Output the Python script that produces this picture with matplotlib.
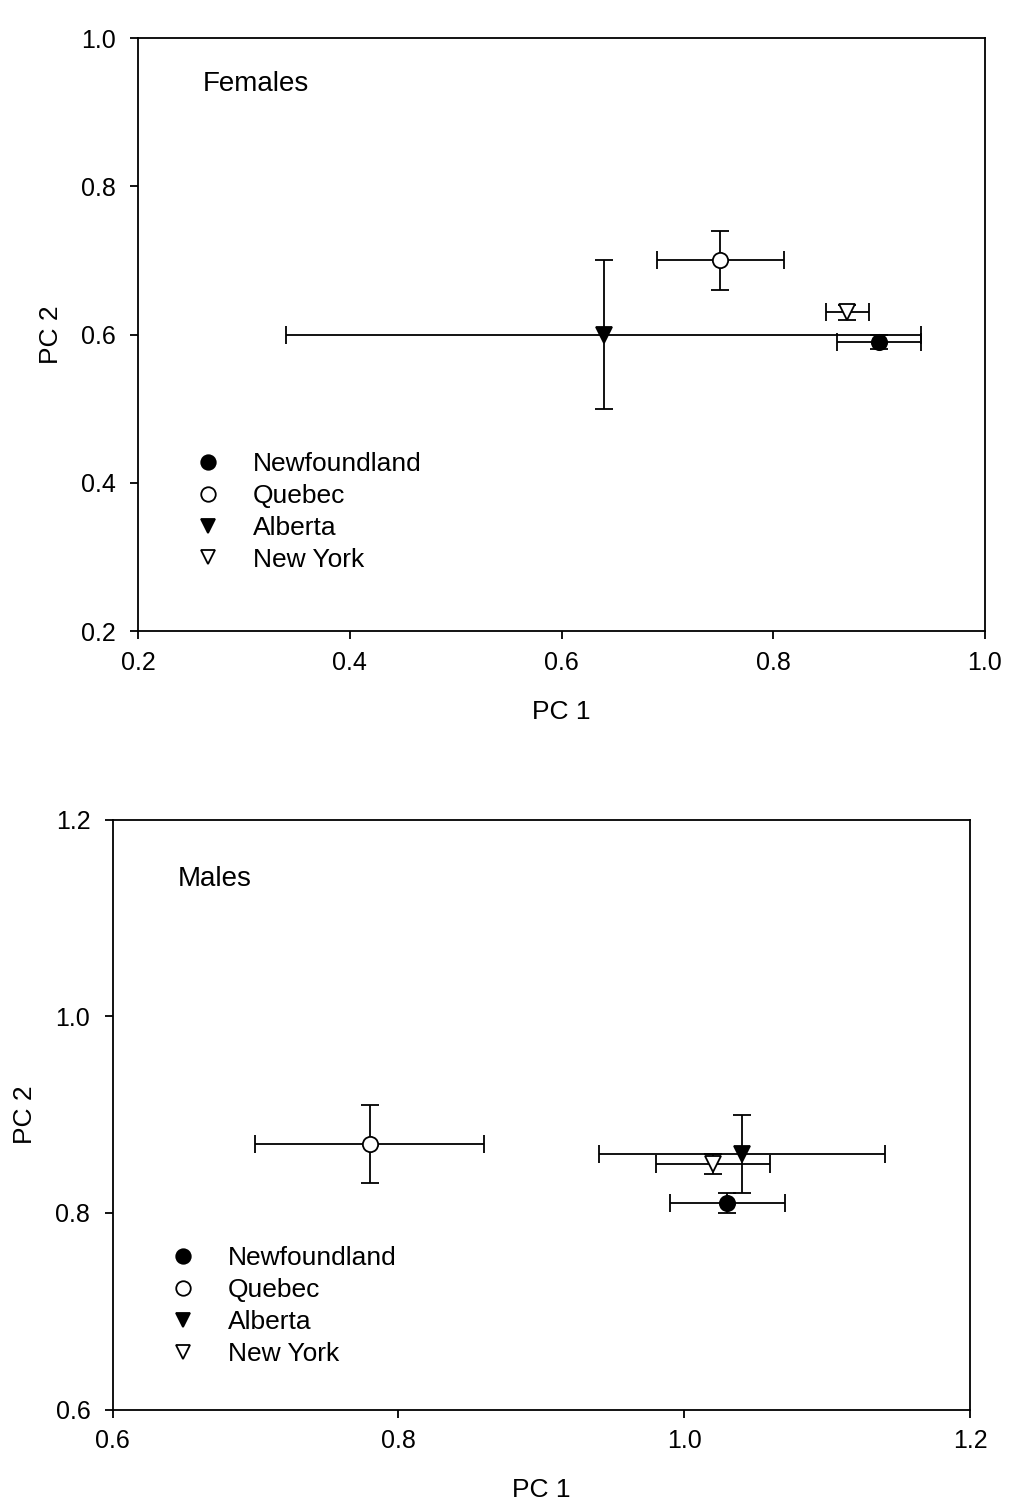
import matplotlib.pyplot as plt

plt.rcParams["font.family"] = ["Liberation Sans", "DejaVu Sans"]

SITES = ["Newfoundland", "Quebec", "Alberta", "New York"]
MARKERS = ["o", "o", "v", "v"]
FACES = ["black", "white", "black", "white"]

# Females
fem_pc1 = [0.90, 0.75, 0.64, 0.87]
fem_pc1_err = [0.04, 0.06, 0.30, 0.02]
fem_pc2 = [0.59, 0.70, 0.60, 0.63]
fem_pc2_err = [0.01, 0.04, 0.10, 0.01]
fem_ticks = [0.2, 0.4, 0.6, 0.8, 1.0]

# Males
male_pc1 = [1.03, 0.78, 1.04, 1.02]
male_pc1_err = [0.04, 0.08, 0.10, 0.04]
male_pc2 = [0.81, 0.87, 0.86, 0.85]
male_pc2_err = [0.01, 0.04, 0.04, 0.01]
male_ticks = [0.6, 0.8, 1.0, 1.2]


def draw_panel(ax, pc1, pc1_err, pc2, pc2_err, ticks, title, title_y, leg_y):
    for i, site in enumerate(SITES):
        ax.errorbar(pc1[i], pc2[i], xerr=pc1_err[i], yerr=pc2_err[i], fmt="none",
                    ecolor="black", elinewidth=1.3, capsize=6.5, capthick=1.3, zorder=2)
        ax.plot(pc1[i], pc2[i], linestyle="none", marker=MARKERS[i], markersize=11,
                markerfacecolor=FACES[i], markeredgecolor="black", markeredgewidth=1.3,
                label=site, zorder=3)

    ax.set_xlim(ticks[0], ticks[-1])
    ax.set_ylim(ticks[0], ticks[-1])
    ax.set_xticks(ticks)
    ax.set_yticks(ticks)
    ax.set_xticklabels([f"{t:.1f}" for t in ticks])
    ax.set_yticklabels([f"{t:.1f}" for t in ticks])
    for sp in ax.spines.values():
        sp.set_linewidth(1.3)
    ax.tick_params(direction="out", length=6, width=1.3, labelsize=18, top=False, right=False)
    ax.tick_params(axis="x", pad=8)
    ax.tick_params(axis="y", pad=10)
    ax.set_xlabel("PC 1", fontsize=19, labelpad=18)
    ax.set_ylabel("PC 2", fontsize=19, labelpad=13)

    ax.text(0.076, title_y, title, transform=ax.transAxes, fontsize=20, va="baseline")
    ax.legend(loc="upper left", bbox_to_anchor=(0.067, leg_y), frameon=False,
              borderpad=0, borderaxespad=0, handlelength=1.0, handletextpad=1.2,
              labelspacing=0.3, fontsize=19, markerscale=0.95)


fig = plt.figure(figsize=(10.09, 15.09), dpi=100)
ax_f = fig.add_axes([0.1368, 0.5818, 0.8394, 0.3930])
ax_m = fig.add_axes([0.1115, 0.0659, 0.8503, 0.3910])

draw_panel(ax_f, fem_pc1, fem_pc1_err, fem_pc2, fem_pc2_err, fem_ticks, "Females", 0.910, 0.302)
draw_panel(ax_m, male_pc1, male_pc1_err, male_pc2, male_pc2_err, male_ticks, "Males", 0.887, 0.277)

fig.savefig("out.png", dpi=100)
